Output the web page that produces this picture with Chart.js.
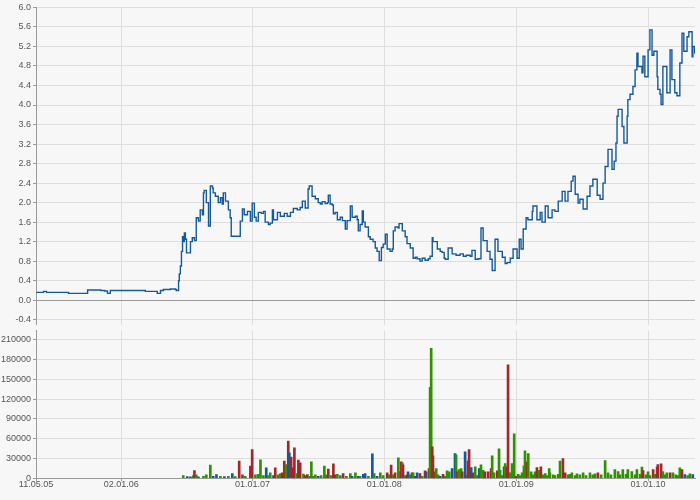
<!DOCTYPE html>
<html>
<head>
<meta charset="utf-8">
<script src="https://cdn.jsdelivr.net/npm/chart.js@4/dist/chart.umd.min.js"></script>
<style>
  html, body { margin: 0; padding: 0; background: #f7f7f7; }
  #wrap { position: relative; width: 700px; height: 500px; }
  #priceBox { position: absolute; left: 0; top: 0; width: 700px; height: 332px; }
  #volBox { position: absolute; left: 0; top: 323px; width: 700px; height: 177px; }
</style>
</head>
<body>
<div id="wrap">
  <div id="priceBox"><canvas id="priceChart"></canvas></div>
  <div id="volBox"><canvas id="volChart"></canvas></div>
</div>
<script>
// x axis: days counted from 11.05.05
const tickDays = [0, 236, 600, 965, 1331, 1696];
const tickLabels = ['11.05.05', '02.01.06', '01.01.07', '01.01.08', '01.01.09', '01.01.10'];
const dayMax = 1826;

// price panel
const priceTicks = [-0.4, 0, 0.4, 0.8, 1.2, 1.6, 2.0, 2.4, 2.8, 3.2, 3.6, 4.0, 4.4, 4.8, 5.2, 5.6, 6.0];
const priceDays = [
  1, 21, 29, 68, 90, 123, 143, 179, 190, 198, 206, 248, 303, 331, 336, 345, 353, 372, 386, 389,
  395, 397, 400, 403, 406, 408, 411, 414, 417, 425, 428, 433, 439, 444, 450, 455, 461, 464, 466, 472,
  478, 483, 489, 491, 497, 505, 511, 516, 519, 525, 533, 538, 541, 550, 561, 566, 572, 577, 586, 594,
  599, 605, 610, 616, 624, 630, 635, 644, 649, 655, 658, 669, 677, 688, 696, 705, 713, 724, 732, 738,
  746, 754, 757, 765, 774, 782, 788, 793, 801, 807, 810, 815, 821, 824, 829, 835, 843, 849, 857, 862,
  871, 876, 885, 890, 893, 898, 904, 907, 912, 921, 926, 934, 940, 945, 951, 957, 962, 968, 973, 981,
  987, 990, 995, 1004, 1006, 1015, 1023, 1028, 1037, 1045, 1051, 1056, 1064, 1070, 1078, 1087, 1092, 1098, 1100, 1112,
  1120, 1125, 1131, 1134, 1142, 1153, 1164, 1175, 1184, 1192, 1203, 1208, 1217, 1225, 1233, 1239, 1250, 1258, 1264, 1272,
  1280, 1292, 1300, 1305, 1314, 1322, 1333, 1339, 1344, 1350, 1358, 1363, 1375, 1377, 1388, 1397, 1402, 1411, 1419, 1430,
  1438, 1447, 1458, 1466, 1474, 1483, 1488, 1494, 1502, 1507, 1516, 1527, 1535, 1543, 1555, 1563, 1571, 1577, 1585, 1596,
  1602, 1607, 1610, 1613, 1624, 1629, 1638, 1640, 1646, 1654, 1660, 1665, 1668, 1679, 1682, 1687, 1696, 1701, 1707, 1712,
  1721, 1723, 1729, 1732, 1737, 1748, 1757, 1762, 1770, 1776, 1784, 1790, 1795, 1804, 1809, 1818, 1820, 1825
];
const priceVals = [
  0.16, 0.18, 0.16, 0.16, 0.14, 0.14, 0.21, 0.20, 0.19, 0.14, 0.20, 0.20, 0.18, 0.18, 0.14, 0.20, 0.22, 0.23, 0.22, 0.20,
  0.40, 0.54, 0.70, 1.00, 1.30, 1.20, 1.38, 1.25, 0.97, 0.97, 1.20, 1.28, 1.22, 1.69, 1.62, 1.85, 1.75, 2.20, 2.25, 2.00,
  1.52, 2.34, 2.30, 2.20, 2.13, 2.00, 2.10, 1.97, 2.20, 2.03, 1.85, 1.69, 1.31, 1.31, 1.31, 1.62, 1.87, 1.75, 1.82, 1.62,
  1.99, 1.70, 1.62, 1.80, 1.78, 1.82, 1.60, 1.55, 1.58, 1.85, 1.65, 1.80, 1.72, 1.78, 1.72, 1.80, 1.88, 1.85, 1.90, 2.03,
  1.89, 2.28, 2.34, 2.13, 2.08, 2.00, 1.97, 2.02, 1.98, 2.00, 2.15, 1.97, 1.95, 1.77, 1.80, 1.65, 1.70, 1.63, 1.46, 1.63,
  1.93, 1.70, 1.72, 1.65, 1.42, 1.55, 1.83, 1.60, 1.50, 1.30, 1.25, 1.20, 1.07, 1.00, 0.81, 1.08, 1.15, 1.35, 1.05, 1.00,
  1.05, 1.42, 1.50, 1.48, 1.57, 1.42, 1.30, 1.16, 1.07, 0.86, 0.88, 0.85, 0.80, 0.86, 0.82, 0.85, 0.90, 1.28, 1.20, 1.05,
  1.00, 0.98, 0.86, 0.84, 1.07, 0.95, 0.92, 0.95, 0.90, 0.92, 0.90, 1.02, 0.84, 0.85, 1.48, 1.22, 1.00, 0.84, 0.61, 1.25,
  1.00, 0.88, 0.75, 0.77, 0.86, 1.05, 0.86, 1.25, 1.05, 1.46, 1.69, 1.65, 1.82, 1.93, 1.65, 1.80, 1.60, 1.93, 1.69, 1.85,
  1.82, 2.03, 2.23, 2.03, 2.23, 2.44, 2.54, 2.17, 1.99, 2.07, 1.87, 2.13, 2.34, 2.48, 2.15, 2.07, 2.40, 2.74, 3.09, 2.68,
  2.85, 3.22, 3.77, 3.91, 3.56, 3.22, 3.77, 4.11, 4.22, 4.38, 4.72, 5.06, 4.79, 4.66, 5.00, 4.58, 5.13, 5.54, 5.02, 5.10,
  4.58, 4.32, 4.22, 4.01, 4.79, 4.25, 5.13, 4.52, 4.25, 4.19, 4.86, 5.47, 5.10, 5.40, 5.50, 4.99, 5.20, 5.05
];

// volume panel (g = up, r = down, b = unchanged)
const volTicks = [0, 30000, 60000, 90000, 120000, 150000, 180000, 210000];
const volDays = [
  408, 419, 428, 436, 439, 444, 450, 464, 472, 483, 491, 500, 511, 522, 533, 544, 552, 563, 572, 580,
  594, 599, 608, 616, 622, 630, 638, 644, 649, 658, 663, 671, 677, 682, 688, 693, 699, 702, 707, 713,
  716, 724, 727, 732, 741, 746, 752, 757, 763, 768, 774, 782, 790, 799, 804, 810, 818, 824, 829, 835,
  843, 851, 860, 871, 876, 885, 893, 898, 907, 912, 921, 932, 937, 945, 954, 962, 973, 979, 984, 990,
  995, 1004, 1009, 1012, 1015, 1017, 1023, 1028, 1031, 1037, 1042, 1045, 1051, 1056, 1064, 1070, 1078, 1081, 1089, 1092,
  1095, 1098, 1100, 1103, 1109, 1114, 1120, 1128, 1134, 1139, 1145, 1153, 1161, 1164, 1167, 1172, 1178, 1181, 1189, 1195,
  1197, 1200, 1206, 1211, 1217, 1222, 1228, 1233, 1239, 1244, 1253, 1261, 1264, 1269, 1278, 1283, 1286, 1292, 1297, 1300,
  1305, 1308, 1314, 1319, 1325, 1330, 1336, 1341, 1347, 1352, 1355, 1361, 1364, 1372, 1377, 1383, 1388, 1394, 1399, 1405,
  1411, 1416, 1422, 1424, 1433, 1438, 1447, 1452, 1460, 1466, 1474, 1480, 1485, 1494, 1499, 1507, 1516, 1524, 1535, 1543,
  1549, 1557, 1566, 1577, 1585, 1593, 1604, 1613, 1618, 1626, 1635, 1640, 1651, 1660, 1665, 1674, 1679, 1682, 1690, 1696,
  1701, 1710, 1715, 1721, 1723, 1732, 1737, 1743, 1748, 1757, 1765, 1773, 1779, 1784, 1790, 1798, 1806, 1812, 1820
];
const volVals = [
  4000, 2500, 2000, 4000, 11600, 5000, 2000, 3000, 5000, 19700, 3000, 5600, 3000, 2500, 3000, 7000, 2500, 25800, 5000, 3000,
  18200, 43500, 5000, 6000, 27800, 4000, 15700, 4000, 8000, 4000, 15700, 5000, 6500, 8000, 25800, 20700, 56200, 38500, 31900, 15700,
  46000, 7000, 27300, 23300, 6400, 4000, 5400, 3000, 24800, 3000, 5000, 3000, 4000, 18200, 5000, 13700, 4000, 21800, 5000, 6000,
  4000, 7000, 3000, 7000, 3000, 8000, 3000, 3000, 6000, 7000, 3000, 36900, 7000, 3000, 8000, 4000, 8000, 5000, 19700, 5000,
  8000, 30900, 10000, 24800, 23300, 20200, 4000, 5000, 9600, 5000, 8100, 8100, 3000, 8100, 7000, 3000, 11100, 9600, 14700, 137600,
  196800, 47600, 33900, 9600, 14700, 5000, 3000, 6000, 3000, 11100, 9600, 14700, 37400, 35400, 9600, 13200, 14700, 9600, 40000, 4500,
  26300, 43500, 16200, 8100, 17200, 4000, 14700, 20200, 12100, 9600, 9600, 14700, 33900, 8100, 11100, 44500, 12100, 4000, 17200, 22300,
  17200, 172000, 8100, 22300, 67300, 3000, 6000, 4000, 8100, 18700, 41500, 24800, 37400, 9600, 5000, 9600, 16200, 12100, 17200, 5000,
  7000, 4000, 14700, 8100, 5000, 4000, 6000, 25800, 29900, 8000, 5000, 6000, 8000, 4000, 6500, 5000, 8000, 4000, 8000, 5000,
  6500, 8000, 5000, 26800, 8000, 5000, 13200, 10000, 5000, 13200, 6000, 13200, 10000, 5000, 13200, 6000, 16700, 11600, 5000, 9600,
  4000, 13200, 6000, 16700, 20700, 21800, 10000, 5000, 8000, 8000, 8000, 5000, 4000, 15700, 13200, 5600, 4000, 6500, 5600
];
const volKinds = [
  'g','b','b','g','r','g','b','g','g','g','b','b','g','b','g','b','g','r','r','g',
  'r','r','g','g','g','g','b','g','g','b','r','g','g','r','r','g','r','b','r','r',
  'r','g','r','r','g','r','r','g','g','g','g','b','g','g','g','r','g','r','r','g',
  'g','r','g','g','b','g','b','g','b','b','g','b','g','b','g','g','r','g','r','g',
  'r','g','g','r','g','r','g','r','b','g','r','g','b','b','r','g','r','b','r','g',
  'g','r','r','r','g','g','b','r','g','g','g','b','b','g','r','g','g','r','b','g',
  'r','r','b','r','g','g','b','g','g','r','r','r','g','g','r','g','g','g','b','g',
  'r','r','g','g','g','r','g','g','g','g','g','r','g','g','g','g','r','g','r','g',
  'g','g','g','g','g','g','g','g','r','r','g','g','g','g','g','g','g','g','g','g',
  'g','r','g','g','g','g','g','g','g','g','g','g','g','g','g','g','g','r','g','g',
  'g','r','g','r','r','r','g','g','g','r','g','g','g','g','r','b','g','g','b'
];

const kindColors = { g: '#2f9100', r: '#a3262a', b: '#15599b' };
const gridColor = '#dedede';
const axisColor = '#9a9a9a';

Chart.defaults.font.family = "'Liberation Sans', Arial, sans-serif";
Chart.defaults.font.size = 9;
Chart.defaults.color = '#555555';

function setTicks(list) {
  return function(scale) {
    scale.ticks = list.map(v => ({ value: v }));
  };
}

function fixWidth(scale) {
  scale.width = 36;
}

// price chart
new Chart(document.getElementById('priceChart'), {
  type: 'line',
  data: {
    datasets: [{
      data: priceDays.map((d, i) => ({ x: d, y: priceVals[i] })),
      borderColor: '#15599b',
      borderWidth: 1.4,
      pointRadius: 0,
      stepped: true,
      fill: false
    }]
  },
  options: {
    responsive: true,
    maintainAspectRatio: false,
    animation: false,
    layout: { padding: { top: 4, right: 5, bottom: 2, left: 0 } },
    plugins: { legend: { display: false }, tooltip: { enabled: false } },
    scales: {
      x: {
        type: 'linear',
        min: 0,
        max: dayMax,
        afterBuildTicks: setTicks(tickDays),
        ticks: { display: false },
        grid: { color: gridColor, drawTicks: false },
        border: { display: false }
      },
      y: {
        min: -0.5,
        max: 6.0,
        afterBuildTicks: setTicks(priceTicks),
        afterFit: fixWidth,
        ticks: {
          padding: 2,
          callback: v => v.toFixed(1)
        },
        grid: {
          color: ctx => (ctx.tick && Math.abs(ctx.tick.value) < 1e-9 ? axisColor : gridColor),
          tickColor: axisColor,
          tickLength: 3
        },
        border: { color: axisColor }
      }
    }
  }
});

// volume chart
new Chart(document.getElementById('volChart'), {
  type: 'bar',
  data: {
    datasets: [{
      data: volDays.map((d, i) => ({ x: d, y: volVals[i] })),
      backgroundColor: volKinds.map(k => kindColors[k]),
      barThickness: 2,
      grouped: false
    }]
  },
  options: {
    responsive: true,
    maintainAspectRatio: false,
    animation: false,
    layout: { padding: { top: 1, right: 5, bottom: 12, left: 0 } },
    plugins: { legend: { display: false }, tooltip: { enabled: false } },
    scales: {
      x: {
        type: 'linear',
        min: 0,
        max: dayMax,
        offset: false,
        afterBuildTicks: setTicks(tickDays),
        ticks: {
          padding: -2,
          maxRotation: 0,
          autoSkip: false,
          callback: (v) => {
            const i = tickDays.indexOf(v);
            return i >= 0 ? tickLabels[i] : '';
          }
        },
        grid: { color: gridColor, offset: false, tickColor: axisColor, tickLength: 3 },
        border: { color: axisColor }
      },
      y: {
        min: 0,
        max: 224000,
        afterBuildTicks: setTicks(volTicks),
        afterFit: fixWidth,
        ticks: { padding: 2, callback: v => String(v) },
        grid: { color: gridColor, tickColor: axisColor, tickLength: 3 },
        border: { color: axisColor }
      }
    }
  }
});
</script>
</body>
</html>
